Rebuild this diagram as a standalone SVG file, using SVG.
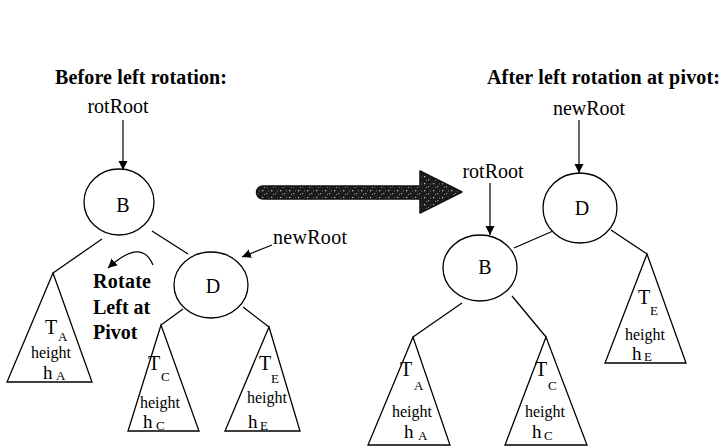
<svg xmlns="http://www.w3.org/2000/svg" width="725" height="446" viewBox="0 0 725 446">
<style>
text{font-family:"Liberation Serif","Times New Roman",serif;fill:#000}
.t{font-size:20px;font-weight:bold}
.lb{font-size:20px}
.big{font-size:20px}
.hh{font-size:19px}
.sub{font-size:13px}
.ht{font-size:16px}
.nd{fill:#fff;stroke:#000;stroke-width:1.3}
.tr{fill:#fff;stroke:#000;stroke-width:1.3}
.ed{stroke:#000;stroke-width:1.3;fill:none}
.ptr{stroke:#000;stroke-width:1.2;fill:none;marker-end:url(#ah)}
</style>
<defs>
<marker id="ah" markerUnits="userSpaceOnUse" markerWidth="10" markerHeight="10" refX="9" refY="5" orient="auto">
<path d="M0,0.5 L9,5 L0,9.5 z" fill="#000"/>
</marker>
<pattern id="spk" width="9" height="7" patternUnits="userSpaceOnUse">
<rect width="9" height="7" fill="#1c1c1c"/>
<rect x="1" y="1" width="1.3" height="1.3" fill="#bbb"/>
<rect x="5" y="4" width="1.2" height="1.2" fill="#999"/>
<rect x="7" y="1.5" width="1" height="1" fill="#777"/>
<rect x="3" y="5" width="1" height="1" fill="#888"/>
</pattern>
</defs>

<rect width="725" height="446" fill="#fff"/>

<text class="t" x="55" y="84" textLength="172">Before left rotation:</text>
<text class="t" x="487" y="84" textLength="233">After left rotation at pivot:</text>

<g id="bigArrow">
<path d="M263,186 L420,186 L420,171 L462,192 L420,213 L420,199 L263,199 A6.5,6.5 0 0 1 263,186 z" fill="url(#spk)" stroke="#111" stroke-width="1.5" stroke-linejoin="round"/>
</g>

<g id="connectors">
<line class="ptr" x1="123" y1="120" x2="123" y2="170"/>
<line class="ptr" x1="272" y1="245" x2="242" y2="257"/>
<path class="ptr" d="M153,265 C146,248 132,246 108,268"/>
<line class="ed" x1="102" y1="239" x2="53" y2="273"/>
<line class="ed" x1="152" y1="231" x2="188" y2="254"/>
<line class="ed" x1="183" y1="309" x2="161" y2="325"/>
<line class="ed" x1="243" y1="307" x2="269" y2="327"/>
<line class="ptr" x1="579" y1="120" x2="579" y2="173"/>
<line class="ptr" x1="490" y1="183" x2="490" y2="235"/>
<line class="ed" x1="553" y1="231" x2="514" y2="248"/>
<line class="ed" x1="611" y1="230" x2="647" y2="254"/>
<line class="ed" x1="462" y1="303" x2="413" y2="337"/>
<line class="ed" x1="512" y1="296" x2="546" y2="337"/>
</g>

<g id="labelsLeft">
<text class="lb" x="118" y="113" text-anchor="middle">rotRoot</text>
<text class="lb" x="273" y="244" textLength="74">newRoot</text>
<text class="t" x="93" y="288" textLength="58">Rotate</text>
<text class="t" x="93" y="314">Left at</text>
<text class="t" x="93" y="339">Pivot</text>
</g>

<g id="nodeB1">
<ellipse class="nd" cx="119" cy="202" rx="35" ry="33"/>
<text class="big" x="123" y="212" text-anchor="middle">B</text>
</g>
<g id="nodeD1">
<ellipse class="nd" cx="211" cy="285" rx="37" ry="33"/>
<text class="big" x="213" y="293" text-anchor="middle">D</text>
</g>
<g id="treeA1">
<polygon class="tr" points="53,273 7,382 92,382"/>
<text class="big" x="45" y="334">T</text><text class="sub" x="58" y="341">A</text>
<text class="ht" x="51" y="358" text-anchor="middle">height</text>
<text class="hh" x="43" y="379">h</text><text class="sub" x="56" y="380">A</text>
</g>
<g id="treeC1">
<polygon class="tr" points="161,325 128,431 199,431"/>
<text class="big" x="148" y="370">T</text><text class="sub" x="161" y="381">C</text>
<text class="ht" x="160" y="408" text-anchor="middle">height</text>
<text class="hh" x="143" y="428">h</text><text class="sub" x="156" y="430">C</text>
</g>
<g id="treeE1">
<polygon class="tr" points="269,327 225,431 300,431"/>
<text class="big" x="259" y="370">T</text><text class="sub" x="271" y="383">E</text>
<text class="ht" x="267" y="403" text-anchor="middle">height</text>
<text class="hh" x="248" y="428">h</text><text class="sub" x="260" y="430">E</text>
</g>

<g id="labelsRight">
<text class="lb" x="589" y="115" text-anchor="middle">newRoot</text>
<text class="lb" x="493" y="178" text-anchor="middle">rotRoot</text>
</g>

<g id="nodeD2">
<ellipse class="nd" cx="580" cy="208" rx="37" ry="35"/>
<text class="big" x="582" y="215" text-anchor="middle">D</text>
</g>
<g id="nodeB2">
<ellipse class="nd" cx="480" cy="268" rx="37" ry="33"/>
<text class="big" x="485" y="274" text-anchor="middle">B</text>
</g>
<g id="treeE2">
<polygon class="tr" points="647,254 605,363 686,363"/>
<text class="big" x="638" y="304">T</text><text class="sub" x="650" y="315">E</text>
<text class="ht" x="645" y="340" text-anchor="middle">height</text>
<text class="hh" x="632" y="360">h</text><text class="sub" x="644" y="361">E</text>
</g>
<g id="treeA2">
<polygon class="tr" points="413,337 368,445 450,445"/>
<text class="big" x="400" y="376">T</text><text class="sub" x="414" y="390">A</text>
<text class="ht" x="412" y="417" text-anchor="middle">height</text>
<text class="hh" x="404" y="438">h</text><text class="sub" x="418" y="440">A</text>
</g>
<g id="treeC2">
<polygon class="tr" points="546,337 505,445 587,445"/>
<text class="big" x="535" y="376">T</text><text class="sub" x="548" y="390">C</text>
<text class="ht" x="545" y="417" text-anchor="middle">height</text>
<text class="hh" x="532" y="438">h</text><text class="sub" x="544" y="440">C</text>
</g>
</svg>
